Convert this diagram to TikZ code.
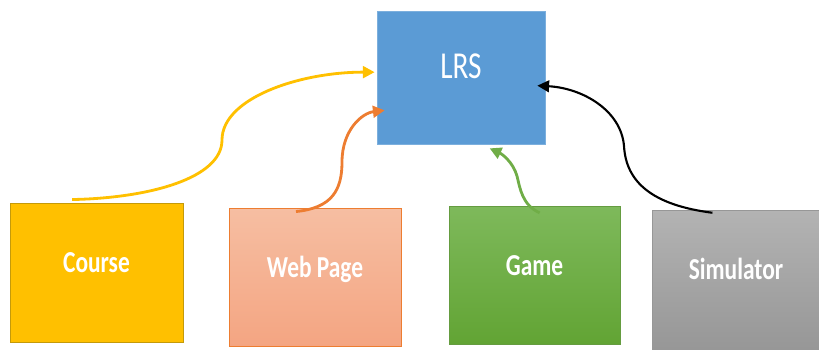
\documentclass[tikz,border=0pt]{standalone}
\usepackage{fontspec}
\setmainfont{Carlito}
\usetikzlibrary{arrows.meta,calc,shadows}
\definecolor{lrsblue}{HTML}{5B9BD5}
\definecolor{cyellow}{HTML}{FFC000}
\definecolor{cyellowd}{HTML}{C49A0A}
\definecolor{worange}{HTML}{ED7D31}
\definecolor{wtop}{HTML}{F6BEA2}
\definecolor{wbot}{HTML}{F4A582}
\definecolor{ggreen}{HTML}{70AD47}
\definecolor{gtop}{HTML}{7EB95B}
\definecolor{gbot}{HTML}{62A434}
\definecolor{stop}{HTML}{B3B3B3}
\definecolor{sbot}{HTML}{979797}
\begin{document}
\begin{tikzpicture}[x=0.03cm,y=-0.03cm,
  box/.style={rectangle,inner sep=0pt,text=white,font=\bfseries\fontsize{20}{22}\selectfont,
    text height=0.5cm,text depth=0.5cm,
    drop shadow={opacity=0.25,shadow xshift=1.2pt,shadow yshift=-1.2pt}},
  conn/.style={line width=2.4pt,-{Triangle[length=10pt,width=10pt]}}]
\useasboundingbox (0,0) rectangle (819,351);
\node[rectangle,inner sep=0pt,fill=lrsblue,draw=lrsblue!80!white,line width=0.6pt,
  minimum width={168*0.03cm},minimum height={133*0.03cm},text depth={0.66cm},
  text=white,font=\fontsize{25}{27}\selectfont] (lrs) at (461,77.5) {\scalebox{1}[1.3]{LRS}};
\node[box,fill=cyellow,draw=cyellowd,line width=0.8pt,
  minimum width={173*0.03cm},minimum height={139*0.03cm}] (course) at (96.5,272.5) {\scalebox{1}[1.3]{Course}};
\node[box,top color=wtop,bottom color=wbot,draw=worange,line width=0.8pt,
  minimum width={172*0.03cm},minimum height={138*0.03cm}] (web) at (315,277) {\scalebox{1}[1.3]{Web Page}};
\node[box,top color=gtop,bottom color=gbot,draw=ggreen!90!black,line width=0.4pt,
  minimum width={171*0.03cm},minimum height={138*0.03cm}] (game) at (534.5,275) {\scalebox{1}[1.3]{Game}};
\node[box,top color=stop,bottom color=sbot,draw=sbot,line width=0.4pt,
  minimum width={168*0.03cm},minimum height={139*0.03cm}] (sim) at (736,279.5) {\scalebox{1}[1.3]{Simulator}};
% connectors
\draw[conn,draw=cyellow,color=cyellow]
  ($(course.north west)!0.36!(course.north east)+(0,-3)$)
  .. controls (150,198) and (222,178) .. (222,140)
  .. controls (222,98) and (300,72) .. ($(lrs.north west)!0.46!(lrs.south west)+(-2,0)$);
\draw[conn,draw=worange,color=worange]
  ($(web.north west)!0.39!(web.north east)+(0,4)$)
  .. controls (332,208) and (342,190) .. (342,162)
  .. controls (342,130) and (362,113) .. ($(lrs.south west)+(8,-34)$);
\draw[conn,draw=ggreen,color=ggreen]
  ($(game.north west)!0.53!(game.north east)+(0,7)$)
  .. controls (522,205) and (520,188) .. (517,176)
  .. controls (513,162) and (502,154) .. ($(lrs.south west)+(113,4)$);
\draw[conn,draw=black,color=black,line width=1.8pt]
  ($(sim.north west)!0.36!(sim.north east)+(0,3)$)
  .. controls (652,205) and (626,182) .. (624,146)
  .. controls (621,110) and (582,88) .. ($(lrs.north east)+(-8,75)$);
\end{tikzpicture}
\end{document}
